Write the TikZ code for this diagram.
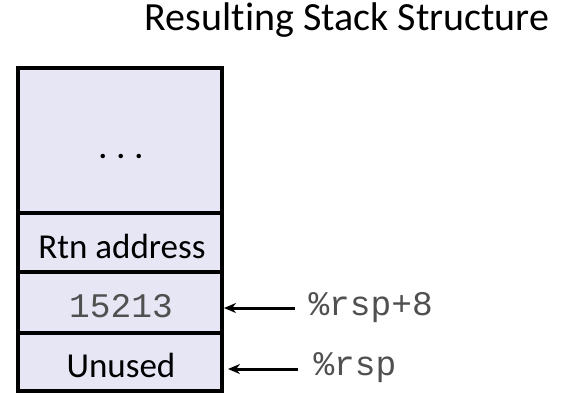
\documentclass[tikz,border=0pt]{standalone}
\usepackage{fontspec}
\setmainfont[Ligatures=NoCommon]{Carlito}
\newfontfamily\monofont{Liberation Mono}
\usetikzlibrary{arrows.meta}
\definecolor{cellfill}{RGB}{230,230,245}
\definecolor{monogray}{RGB}{80,80,80}
\begin{document}
\begin{tikzpicture}[x=1pt,y=-1pt,
  cell/.style={draw=black,line width=3.2pt,fill=cellfill},
  celltext/.style={font=\fontsize{35}{35}\selectfont,anchor=center},
  monotext/.style={font=\monofont\fontsize{34.5}{34.5}\selectfont,text=monogray,anchor=center},
  ptr/.style={-{Stealth[length=12pt,width=10pt]},line width=3pt},
  reglabel/.style={font=\monofont\fontsize{34.5}{34.5}\selectfont,text=monogray,anchor=west}]
\useasboundingbox (0,0) rectangle (577,405);
\fill[white] (0,0) rectangle (577,405);
\node[font=\fontsize{40}{40}\selectfont,anchor=center] (title) at (347,20) {Resulting Stack Structure};
\draw[cell] (18,68) rectangle (222,213);
\draw[cell] (18,213) rectangle (222,272);
\draw[cell] (18,272) rectangle (222,333);
\draw[cell] (18,333) rectangle (222,391);
\coordinate (c1e) at (224,308);
\coordinate (c2e) at (228,369);
\coordinate (t1) at (295,308);
\coordinate (t2) at (298,369);
\node[font=\fontsize{30}{30}\selectfont\bfseries,anchor=center] (dots) at (121,156) {.\hspace{10pt}.\hspace{10pt}.};
\node[celltext] (rtn) at (122,246) {Rtn address};
\node[monotext] (val) at (121,306) {15213};
\node[celltext] (unused) at (121,365) {Unused};
\node[reglabel] (rsp8) at (305,308) {\%rsp+8};
\node[reglabel] (rsp) at (310,368) {\%rsp};
\draw[ptr] (t1) -- (c1e);
\draw[ptr] (t2) -- (c2e);
\end{tikzpicture}
\end{document}
